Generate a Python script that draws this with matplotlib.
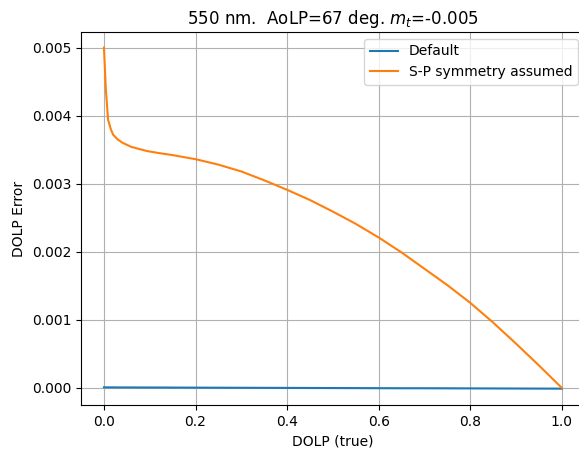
import matplotlib
matplotlib.use('Agg')
import matplotlib.pyplot as plt

# DOLP (true) sample points and DOLP error
dolp = [0.0, 0.004, 0.009, 0.015, 0.02, 0.03, 0.041, 0.06, 0.094, 0.12, 0.15,
        0.2, 0.25, 0.3, 0.35, 0.4, 0.45, 0.5, 0.55, 0.6, 0.65, 0.7, 0.75,
        0.8, 0.85, 0.9, 0.95, 1.0]
err_sp = [0.0050, 0.0044, 0.00394, 0.00380, 0.00372, 0.00365, 0.00360, 0.00354,
          0.00348, 0.00345, 0.00342, 0.00336, 0.00328, 0.00318, 0.00305,
          0.00291, 0.00276, 0.00259, 0.00241, 0.00221, 0.00199, 0.00175,
          0.00151, 0.00125, 0.00096, 0.00065, 0.00033, 0.0]
err_default = [0.00001, 0.000009, 0.000009, 0.000009, 0.000009, 0.000008,
               0.000008, 0.000008, 0.000007, 0.000007, 0.000006, 0.000005,
               0.000004, 0.000003, 0.000002, 0.000001, 0.0, -0.000001,
               -0.000002, -0.000003, -0.000004, -0.000004, -0.000005,
               -0.000006, -0.000007, -0.000008, -0.000009, -0.00001]

fig = plt.figure(figsize=(5.79, 4.49), dpi=100)
ax = fig.add_axes([0.14, 0.098, 0.87, 0.831])

ax.plot(dolp, err_default, color='#1f77b4', label='Default')
ax.plot(dolp, err_sp, color='#ff7f0e', label='S-P symmetry assumed')

ax.set_xlim(-0.05, 1.05)
ax.set_ylim(-0.00025, 0.00523)
ax.set_yticks([0, 0.001, 0.002, 0.003, 0.004, 0.005])
ax.set_yticklabels(['0.000', '0.001', '0.002', '0.003', '0.004', '0.005'])
ax.grid(True)
ax.set_xlabel('DOLP (true)')
ax.set_ylabel('DOLP Error')
ax.set_title('550 nm.  AoLP=67 deg. $m_t$=-0.005')
ax.legend(loc='upper right')

fig.savefig('out.png', dpi=100)
